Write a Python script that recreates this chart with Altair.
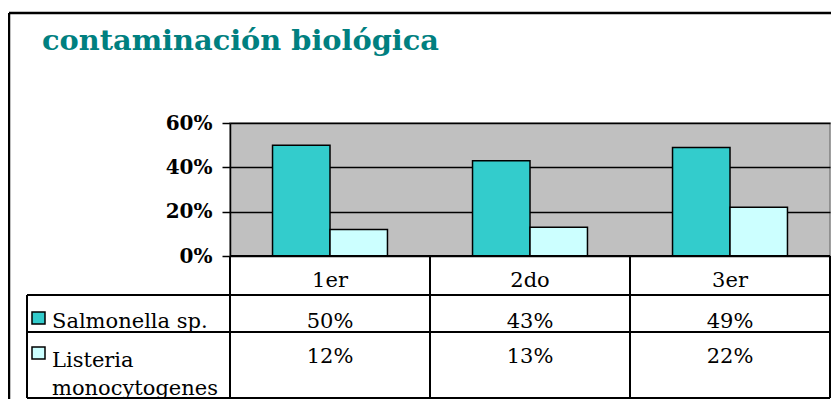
import altair as alt
import pandas as pd

categories = ["1er", "2do", "3er"]
series = ["Salmonella sp.", "Listeria monocytogenes"]
legend_lines = ["Salmonella sp.", "Listeria\nmonocytogenes"]
salmonella = [0.50, 0.43, 0.49]
listeria = [0.12, 0.13, 0.22]
colors = ["#33CCCC", "#CCFFFF"]
title_text = "contaminación biológica"
y_ticks = [0, 0.2, 0.4, 0.6]

rows = []
for i, c in enumerate(categories):
    rows.append({"cat": c, "series": series[0], "value": salmonella[i]})
    rows.append({"cat": c, "series": series[1], "value": listeria[i]})
df = pd.DataFrame(rows)
cat_df = pd.DataFrame({"cat": categories})
leg_df = pd.DataFrame({"series": series, "label": legend_lines})

FONT = "DejaVu Serif"
FS = 21

xs = alt.Scale(domain=categories, paddingInner=0, paddingOuter=0)
cs = alt.Scale(domain=series, range=colors)

bars = alt.Chart(df).mark_bar(stroke="black", strokeWidth=1.5).encode(
    x=alt.X("cat:N", scale=xs, axis=None),
    xOffset=alt.XOffset("series:N", scale=alt.Scale(domain=series, paddingInner=0, paddingOuter=0.74)),
    y=alt.Y("value:Q", scale=alt.Scale(domain=[0, 0.6], nice=False),
            axis=alt.Axis(values=y_ticks, format=".0%", title=None,
                          labelFont=FONT, labelFontWeight="bold", labelFontSize=20,
                          labelColor="black", labelPadding=10,
                          tickSize=8, tickColor="black", tickWidth=1.5,
                          domainColor="black", domainWidth=1.5,
                          gridColor="black", gridWidth=1.5, gridOpacity=1)),
    color=alt.Color("series:N", scale=cs, legend=None),
)

# table lines
hlines = []
for yv, x0 in [(133, 0), (172, -203), (209, -203), (275, -203)]:
    hlines.append(alt.Chart(cat_df.head(1)).mark_rule(color="black", strokeWidth=2).encode(
        x=alt.value(x0), x2=alt.value(600), y=alt.value(yv)))
vlines = alt.Chart(cat_df).mark_rule(color="black", strokeWidth=2).encode(
    x=alt.X("cat:N", scale=xs, bandPosition=0), y=alt.value(133), y2=alt.value(275))
vright = alt.Chart(cat_df.head(1)).mark_rule(color="black", strokeWidth=2).encode(
    x=alt.value(600), y=alt.value(133), y2=alt.value(275))
vleft = alt.Chart(cat_df.head(1)).mark_rule(color="black", strokeWidth=2).encode(
    x=alt.value(-203), y=alt.value(172), y2=alt.value(275))

cat_text = alt.Chart(cat_df).mark_text(font=FONT, fontSize=FS, color="black", baseline="alphabetic").encode(
    x=alt.X("cat:N", scale=xs), y=alt.value(164), text="cat:N")

layers = [bars] + hlines + [vlines, vright, vleft, cat_text]

row_baselines = [205, 240]
label_baselines = [205, 244]
box_tops = [189, 224]
for i, s in enumerate(series):
    layers.append(alt.Chart(df).transform_filter(alt.datum.series == s).mark_text(
        font=FONT, fontSize=FS, color="black", baseline="alphabetic").encode(
        x=alt.X("cat:N", scale=xs), y=alt.value(row_baselines[i]),
        text=alt.Text("value:Q", format=".0%")))
    layers.append(alt.Chart(leg_df).transform_filter(alt.datum.series == s).mark_text(
        font=FONT, fontSize=FS, color="black", baseline="alphabetic", align="left",
        lineBreak="\n", lineHeight=28).encode(
        x=alt.value(-178), y=alt.value(label_baselines[i]), text="label:N"))
    layers.append(alt.Chart(leg_df).transform_filter(alt.datum.series == s).mark_rect(
        stroke="black", strokeWidth=1.5).encode(
        x=alt.value(-198), x2=alt.value(-185), y=alt.value(box_tops[i]), y2=alt.value(box_tops[i] + 12),
        color=alt.Color("series:N", scale=cs, legend=None)))

title = alt.Chart(cat_df.head(1)).mark_text(
    font=FONT, fontSize=28.8, fontWeight="bold", color="#008080", align="left", baseline="alphabetic").encode(
    x=alt.value(-188), y=alt.value(-73), text=alt.value(title_text))
frame_top = alt.Chart(cat_df.head(1)).mark_rule(color="black", strokeWidth=2.5).encode(
    x=alt.value(-221), x2=alt.value(640), y=alt.value(-110))
frame_left = alt.Chart(cat_df.head(1)).mark_rule(color="black", strokeWidth=2.5).encode(
    x=alt.value(-221), y=alt.value(-110), y2=alt.value(300))
layers += [title, frame_top, frame_left]

chart = alt.layer(*layers).properties(
    width=600, height=133, autosize="none", background="white",
    padding={"left": 222, "top": 115, "right": 1, "bottom": 143},
).configure_view(fill="#C0C0C0", stroke="#808080", strokeWidth=1.5)

chart.save("out.html", embed_options={"renderer": "svg", "actions": False})
